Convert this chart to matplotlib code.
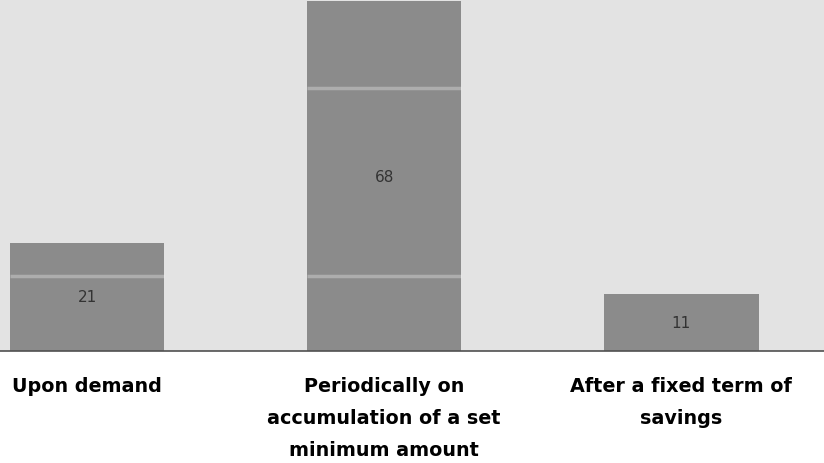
import matplotlib
matplotlib.use("Agg")
import matplotlib.pyplot as plt

categories = ["Upon demand",
              "Periodically on\naccumulation of a set\nminimum amount",
              "After a fixed term of\nsavings"]
values = [21, 68, 11]
x = [0, 1, 2]

fig = plt.figure(figsize=(8.24, 4.64), dpi=100, facecolor="white")
ax = fig.add_axes([0.0, 1 - 352 / 464, 1.0, 352 / 464])
ax.set_facecolor("#e3e3e3")

bars = ax.bar(x, values, width=0.52, color="#8b8b8b", zorder=2)
for xi, v in zip(x, values):
    ax.text(xi, v / 2, str(v), ha="center", va="center",
            fontsize=11, color="#333333", zorder=4)

# faint scanned horizontal streaks across the bars
for b in bars:
    for yv in [14.6, 51.1]:
        if yv < b.get_height():
            ax.hlines(yv, b.get_x(), b.get_x() + b.get_width(),
                      color="white", alpha=0.3, lw=2.5, zorder=3)

ax.set_xlim(-0.293, 2.48)
ax.set_ylim(0, 68.4)
ax.set_yticks([])
ax.set_xticks(x)
ax.set_xticklabels(categories, fontsize=13.8, fontweight="bold",
                   linespacing=1.88, color="black")
ax.tick_params(axis="x", length=0, pad=18)
for s in ["top", "left", "right"]:
    ax.spines[s].set_visible(False)
ax.spines["bottom"].set_color("#505050")
ax.spines["bottom"].set_linewidth(1.2)

fig.savefig("out.png", dpi=100, facecolor="white")
